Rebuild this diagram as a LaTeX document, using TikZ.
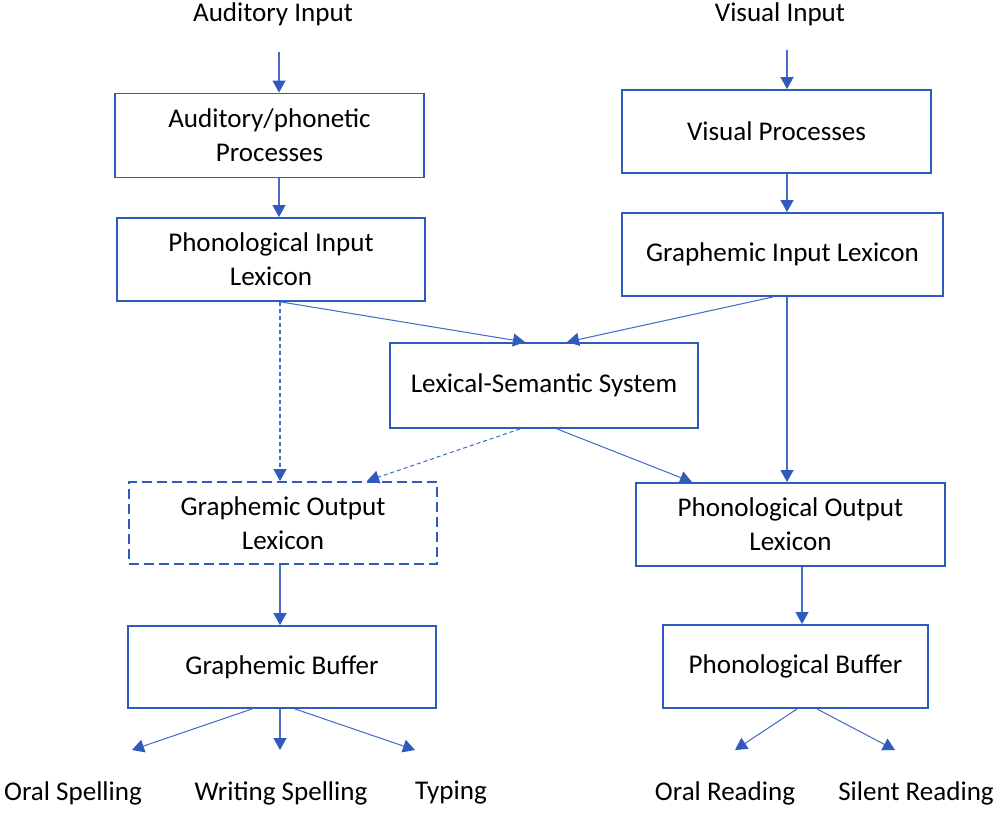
\documentclass[tikz,border=0pt]{standalone}
\usepackage{fontspec}
\setmainfont{Carlito}
\usetikzlibrary{arrows.meta,calc}
\definecolor{boxblue}{RGB}{47,90,190}
\definecolor{lineblue}{RGB}{68,110,200}
\begin{document}
\begin{tikzpicture}[x=0.02cm,y=-0.02cm,
  every node/.style={font=\fontsize{15.4}{19.3}\selectfont, align=center, inner sep=0pt},
  box/.style={draw=boxblue, line width=1.1pt, rectangle},
  dbox/.style={box, dash pattern=on 0.2cm off 0.1cm},
  arr/.style={draw=lineblue, line width=0.6pt, -{Triangle[length=0.24cm,width=0.26cm,fill=boxblue,color=boxblue]}},
  darr/.style={arr, dash pattern=on 0.08cm off 0.06cm},
  lbl/.style={}]
\useasboundingbox (0,0) rectangle (1000,813);
% labels
\node[lbl] (ai) at (273,14) {Auditory Input};
\node[lbl] (vi) at (780,14) {Visual Input};
% boxes
\node[box, minimum width=6.18cm, minimum height=1.68cm] (ap) at (269.5,135.5) {Auditory/phonetic\\Processes};
\node[box, minimum width=6.16cm, minimum height=1.66cm] (pil) at (271,259.5) {Phonological Input\\Lexicon};
\node[box, minimum width=6.18cm, minimum height=1.66cm] (vp) at (776.5,131.5) {Visual Processes};
\node[box, minimum width=6.42cm, minimum height=1.66cm] (gil) at (782.5,254.5) {Graphemic Input Lexicon};
\node[box, minimum width=6.16cm, minimum height=1.7cm] (lss) at (544,385.5) {Lexical-Semantic System};
\node[dbox, minimum width=6.16cm, minimum height=1.64cm] (gol) at (283,523) {Graphemic Output\\Lexicon};
\node[box, minimum width=6.18cm, minimum height=1.66cm] (pol) at (790.5,524.5) {Phonological Output\\Lexicon};
\node[box, minimum width=6.16cm, minimum height=1.64cm] (gb) at (282,667) {Graphemic Buffer};
\node[box, minimum width=5.3cm, minimum height=1.66cm] (pb) at (795.5,666.5) {Phonological Buffer};
% output labels
\node[lbl] (os) at (73,793) {Oral Spelling};
\node[lbl] (wsp) at (281,793) {Writing Spelling};
\node[lbl] (ty) at (451,793) {Typing};
\node[lbl] (ore) at (725,793) {Oral Reading};
\node[lbl] (sr) at (916,793) {Silent Reading};
% arrow tips for outputs
\coordinate (tos) at (132,750);
\coordinate (tws) at (280,750);
\coordinate (tty) at (415,750);
\coordinate (tor) at (735,750);
\coordinate (tsr) at (895,750);
% start points of vertical connectors
\path ($(ai.south)+(6,26)$) coordinate (s1);
\path ($(ap.south)+(9.5,0)$) coordinate (s2);
\path ($(vi.south)+(7,24)$) coordinate (s3);
\path ($(vp.south)+(10.5,0)$) coordinate (s4);
\path ($(gil.south)+(4.5,0)$) coordinate (s5);
\path ($(pil.south)+(9,0)$) coordinate (s6);
\path ($(gol.south)+(-3,0)$) coordinate (s7);
\path ($(pol.south)+(11.5,0)$) coordinate (s8);
% connectors
\draw[arr] (s1) -- (s1 |- ap.north);
\draw[arr] (s2) -- (s2 |- pil.north);
\draw[arr] (s3) -- (s3 |- vp.north);
\draw[arr] (s4) -- (s4 |- gil.north);
\draw[arr] ($(pil.south)+(10,0)$) -- ($(lss.north)+(-19,0)$);
\draw[arr] ($(gil.south)+(-9.5,0)$) -- ($(lss.north)+(23,0)$);
\draw[arr] (s5) -- (s5 |- pol.north);
\draw[arr] ($(lss.south)+(13,0)$) -- ($(pol.north)+(-98.5,0)$);
\draw[darr] ($(lss.south)+(-24,0)$) -- ($(gol.north)+(84,0)$);
\draw[darr] (s6) -- (s6 |- gol.north);
\draw[arr] (s7) -- (s7 |- gb.north);
\draw[arr] (s8) -- (s8 |- pb.north);
\draw[arr] ($(gb.south)+(-30,0)$) -- (tos);
\draw[arr] ($(gb.south)+(-2,0)$) -- (tws);
\draw[arr] ($(gb.south)+(13,0)$) -- (tty);
\draw[arr] ($(pb.south)+(1.5,0)$) -- (tor);
\draw[arr] ($(pb.south)+(21.5,0)$) -- (tsr);
\end{tikzpicture}
\end{document}
